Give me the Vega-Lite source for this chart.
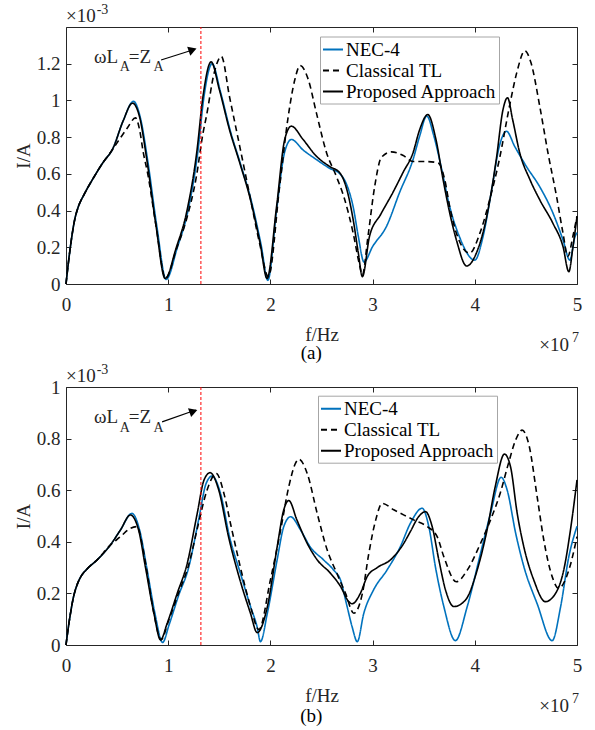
{
  "$schema": "https://vega.github.io/schema/vega-lite/v6.json",
  "autosize": {"type": "none"},
  "padding": {"left": 66, "top": 27, "right": 529, "bottom": 703},
  "bounds": "flush",
  "spacing": 103,
  "background": "#ffffff",
  "datasets": {
    "a": [
      {"s":"NEC-4","f":0,"I":0},{"s":"NEC-4","f":0.02,"I":0.1},{"s":"NEC-4","f":0.04,"I":0.19},{"s":"NEC-4","f":0.06,"I":0.27},{"s":"NEC-4","f":0.085,"I":0.35},{"s":"NEC-4","f":0.12,"I":0.42},{"s":"NEC-4","f":0.17,"I":0.48},{"s":"NEC-4","f":0.26,"I":0.57},{"s":"NEC-4","f":0.36,"I":0.66},{"s":"NEC-4","f":0.46,"I":0.74},{"s":"NEC-4","f":0.56,"I":0.89},{"s":"NEC-4","f":0.66,"I":0.995},{"s":"NEC-4","f":0.73,"I":0.9},{"s":"NEC-4","f":0.8,"I":0.67},{"s":"NEC-4","f":0.89,"I":0.31},{"s":"NEC-4","f":0.98,"I":0.025},{"s":"NEC-4","f":1.09,"I":0.2},{"s":"NEC-4","f":1.19,"I":0.39},{"s":"NEC-4","f":1.29,"I":0.72},{"s":"NEC-4","f":1.35,"I":1.02},{"s":"NEC-4","f":1.43,"I":1.2},{"s":"NEC-4","f":1.51,"I":1.05},{"s":"NEC-4","f":1.61,"I":0.83},{"s":"NEC-4","f":1.71,"I":0.65},{"s":"NEC-4","f":1.81,"I":0.46},{"s":"NEC-4","f":1.91,"I":0.21},{"s":"NEC-4","f":1.975,"I":0.02},{"s":"NEC-4","f":2.06,"I":0.4},{"s":"NEC-4","f":2.14,"I":0.72},{"s":"NEC-4","f":2.205,"I":0.787},{"s":"NEC-4","f":2.32,"I":0.73},{"s":"NEC-4","f":2.45,"I":0.678},{"s":"NEC-4","f":2.58,"I":0.63},{"s":"NEC-4","f":2.68,"I":0.6},{"s":"NEC-4","f":2.74,"I":0.55},{"s":"NEC-4","f":2.81,"I":0.42},{"s":"NEC-4","f":2.86,"I":0.26},{"s":"NEC-4","f":2.916,"I":0.12},{"s":"NEC-4","f":3.0,"I":0.204},{"s":"NEC-4","f":3.135,"I":0.313},{"s":"NEC-4","f":3.265,"I":0.5},{"s":"NEC-4","f":3.395,"I":0.677},{"s":"NEC-4","f":3.46,"I":0.805},{"s":"NEC-4","f":3.53,"I":0.915},{"s":"NEC-4","f":3.6,"I":0.805},{"s":"NEC-4","f":3.67,"I":0.64},{"s":"NEC-4","f":3.755,"I":0.42},{"s":"NEC-4","f":3.85,"I":0.257},{"s":"NEC-4","f":4.0,"I":0.13},{"s":"NEC-4","f":4.08,"I":0.257},{"s":"NEC-4","f":4.16,"I":0.495},{"s":"NEC-4","f":4.24,"I":0.75},{"s":"NEC-4","f":4.31,"I":0.832},{"s":"NEC-4","f":4.39,"I":0.75},{"s":"NEC-4","f":4.505,"I":0.64},{"s":"NEC-4","f":4.635,"I":0.53},{"s":"NEC-4","f":4.765,"I":0.386},{"s":"NEC-4","f":4.863,"I":0.24},{"s":"NEC-4","f":4.93,"I":0.13},{"s":"NEC-4","f":4.98,"I":0.257},{"s":"NEC-4","f":5.0,"I":0.28},
      {"s":"Classical TL","f":0,"I":0},{"s":"Classical TL","f":0.02,"I":0.1},{"s":"Classical TL","f":0.04,"I":0.19},{"s":"Classical TL","f":0.06,"I":0.27},{"s":"Classical TL","f":0.085,"I":0.35},{"s":"Classical TL","f":0.12,"I":0.42},{"s":"Classical TL","f":0.17,"I":0.48},{"s":"Classical TL","f":0.26,"I":0.57},{"s":"Classical TL","f":0.36,"I":0.66},{"s":"Classical TL","f":0.44,"I":0.72},{"s":"Classical TL","f":0.525,"I":0.79},{"s":"Classical TL","f":0.6,"I":0.85},{"s":"Classical TL","f":0.68,"I":0.905},{"s":"Classical TL","f":0.72,"I":0.84},{"s":"Classical TL","f":0.755,"I":0.72},{"s":"Classical TL","f":0.8,"I":0.6},{"s":"Classical TL","f":0.88,"I":0.32},{"s":"Classical TL","f":0.975,"I":0.03},{"s":"Classical TL","f":1.08,"I":0.19},{"s":"Classical TL","f":1.178,"I":0.35},{"s":"Classical TL","f":1.276,"I":0.586},{"s":"Classical TL","f":1.34,"I":0.82},{"s":"Classical TL","f":1.374,"I":0.914},{"s":"Classical TL","f":1.45,"I":1.15},{"s":"Classical TL","f":1.52,"I":1.24},{"s":"Classical TL","f":1.6,"I":1.02},{"s":"Classical TL","f":1.7,"I":0.75},{"s":"Classical TL","f":1.8,"I":0.477},{"s":"Classical TL","f":1.895,"I":0.22},{"s":"Classical TL","f":1.98,"I":0.04},{"s":"Classical TL","f":2.09,"I":0.53},{"s":"Classical TL","f":2.17,"I":0.896},{"s":"Classical TL","f":2.24,"I":1.115},{"s":"Classical TL","f":2.29,"I":1.19},{"s":"Classical TL","f":2.37,"I":1.115},{"s":"Classical TL","f":2.45,"I":0.932},{"s":"Classical TL","f":2.55,"I":0.714},{"s":"Classical TL","f":2.645,"I":0.587},{"s":"Classical TL","f":2.727,"I":0.46},{"s":"Classical TL","f":2.81,"I":0.277},{"s":"Classical TL","f":2.87,"I":0.11},{"s":"Classical TL","f":2.9,"I":0.05},{"s":"Classical TL","f":2.955,"I":0.26},{"s":"Classical TL","f":3.02,"I":0.53},{"s":"Classical TL","f":3.086,"I":0.69},{"s":"Classical TL","f":3.184,"I":0.72},{"s":"Classical TL","f":3.3,"I":0.7},{"s":"Classical TL","f":3.395,"I":0.667},{"s":"Classical TL","f":3.526,"I":0.667},{"s":"Classical TL","f":3.64,"I":0.66},{"s":"Classical TL","f":3.706,"I":0.568},{"s":"Classical TL","f":3.755,"I":0.42},{"s":"Classical TL","f":3.82,"I":0.277},{"s":"Classical TL","f":3.95,"I":0.168},{"s":"Classical TL","f":4.05,"I":0.277},{"s":"Classical TL","f":4.146,"I":0.46},{"s":"Classical TL","f":4.24,"I":0.678},{"s":"Classical TL","f":4.34,"I":0.97},{"s":"Classical TL","f":4.41,"I":1.15},{"s":"Classical TL","f":4.49,"I":1.27},{"s":"Classical TL","f":4.55,"I":1.205},{"s":"Classical TL","f":4.635,"I":0.97},{"s":"Classical TL","f":4.716,"I":0.714},{"s":"Classical TL","f":4.8,"I":0.477},{"s":"Classical TL","f":4.863,"I":0.277},{"s":"Classical TL","f":4.91,"I":0.15},{"s":"Classical TL","f":4.96,"I":0.26},{"s":"Classical TL","f":5.0,"I":0.37},
      {"s":"Proposed Approach","f":0,"I":0},{"s":"Proposed Approach","f":0.02,"I":0.1},{"s":"Proposed Approach","f":0.04,"I":0.19},{"s":"Proposed Approach","f":0.06,"I":0.27},{"s":"Proposed Approach","f":0.085,"I":0.35},{"s":"Proposed Approach","f":0.12,"I":0.42},{"s":"Proposed Approach","f":0.17,"I":0.48},{"s":"Proposed Approach","f":0.26,"I":0.57},{"s":"Proposed Approach","f":0.36,"I":0.66},{"s":"Proposed Approach","f":0.46,"I":0.74},{"s":"Proposed Approach","f":0.56,"I":0.89},{"s":"Proposed Approach","f":0.65,"I":0.985},{"s":"Proposed Approach","f":0.72,"I":0.91},{"s":"Proposed Approach","f":0.79,"I":0.68},{"s":"Proposed Approach","f":0.88,"I":0.32},{"s":"Proposed Approach","f":0.97,"I":0.03},{"s":"Proposed Approach","f":1.08,"I":0.2},{"s":"Proposed Approach","f":1.18,"I":0.39},{"s":"Proposed Approach","f":1.28,"I":0.72},{"s":"Proposed Approach","f":1.34,"I":1.02},{"s":"Proposed Approach","f":1.42,"I":1.21},{"s":"Proposed Approach","f":1.5,"I":1.06},{"s":"Proposed Approach","f":1.6,"I":0.84},{"s":"Proposed Approach","f":1.7,"I":0.66},{"s":"Proposed Approach","f":1.8,"I":0.47},{"s":"Proposed Approach","f":1.9,"I":0.22},{"s":"Proposed Approach","f":1.967,"I":0.03},{"s":"Proposed Approach","f":2.06,"I":0.42},{"s":"Proposed Approach","f":2.14,"I":0.787},{"s":"Proposed Approach","f":2.205,"I":0.86},{"s":"Proposed Approach","f":2.32,"I":0.787},{"s":"Proposed Approach","f":2.45,"I":0.696},{"s":"Proposed Approach","f":2.58,"I":0.64},{"s":"Proposed Approach","f":2.68,"I":0.605},{"s":"Proposed Approach","f":2.74,"I":0.53},{"s":"Proposed Approach","f":2.81,"I":0.35},{"s":"Proposed Approach","f":2.86,"I":0.17},{"s":"Proposed Approach","f":2.9,"I":0.04},{"s":"Proposed Approach","f":2.97,"I":0.26},{"s":"Proposed Approach","f":3.08,"I":0.38},{"s":"Proposed Approach","f":3.2,"I":0.5},{"s":"Proposed Approach","f":3.3,"I":0.61},{"s":"Proposed Approach","f":3.395,"I":0.714},{"s":"Proposed Approach","f":3.46,"I":0.84},{"s":"Proposed Approach","f":3.54,"I":0.923},{"s":"Proposed Approach","f":3.62,"I":0.787},{"s":"Proposed Approach","f":3.69,"I":0.568},{"s":"Proposed Approach","f":3.755,"I":0.386},{"s":"Proposed Approach","f":3.82,"I":0.24},{"s":"Proposed Approach","f":3.92,"I":0.098},{"s":"Proposed Approach","f":4.015,"I":0.168},{"s":"Proposed Approach","f":4.11,"I":0.35},{"s":"Proposed Approach","f":4.21,"I":0.678},{"s":"Proposed Approach","f":4.276,"I":0.95},{"s":"Proposed Approach","f":4.32,"I":1.015},{"s":"Proposed Approach","f":4.37,"I":0.896},{"s":"Proposed Approach","f":4.44,"I":0.714},{"s":"Proposed Approach","f":4.54,"I":0.568},{"s":"Proposed Approach","f":4.635,"I":0.459},{"s":"Proposed Approach","f":4.765,"I":0.33},{"s":"Proposed Approach","f":4.863,"I":0.204},{"s":"Proposed Approach","f":4.92,"I":0.067},{"s":"Proposed Approach","f":4.96,"I":0.2},{"s":"Proposed Approach","f":5.0,"I":0.368}
    ],
    "b": [
      {"s":"NEC-4","f":0,"I":0},{"s":"NEC-4","f":0.02,"I":0.06},{"s":"NEC-4","f":0.044,"I":0.123},{"s":"NEC-4","f":0.07,"I":0.18},{"s":"NEC-4","f":0.11,"I":0.235},{"s":"NEC-4","f":0.15,"I":0.268},{"s":"NEC-4","f":0.207,"I":0.295},{"s":"NEC-4","f":0.305,"I":0.33},{"s":"NEC-4","f":0.435,"I":0.388},{"s":"NEC-4","f":0.533,"I":0.446},{"s":"NEC-4","f":0.645,"I":0.51},{"s":"NEC-4","f":0.72,"I":0.446},{"s":"NEC-4","f":0.79,"I":0.3},{"s":"NEC-4","f":0.87,"I":0.123},{"s":"NEC-4","f":0.945,"I":0.01},{"s":"NEC-4","f":1.01,"I":0.08},{"s":"NEC-4","f":1.1,"I":0.19},{"s":"NEC-4","f":1.2,"I":0.3},{"s":"NEC-4","f":1.3,"I":0.49},{"s":"NEC-4","f":1.37,"I":0.625},{"s":"NEC-4","f":1.43,"I":0.655},{"s":"NEC-4","f":1.51,"I":0.59},{"s":"NEC-4","f":1.6,"I":0.42},{"s":"NEC-4","f":1.707,"I":0.277},{"s":"NEC-4","f":1.805,"I":0.15},{"s":"NEC-4","f":1.87,"I":0.07},{"s":"NEC-4","f":1.903,"I":0.013},{"s":"NEC-4","f":1.97,"I":0.123},{"s":"NEC-4","f":2.066,"I":0.33},{"s":"NEC-4","f":2.13,"I":0.458},{"s":"NEC-4","f":2.197,"I":0.497},{"s":"NEC-4","f":2.295,"I":0.446},{"s":"NEC-4","f":2.39,"I":0.38},{"s":"NEC-4","f":2.52,"I":0.33},{"s":"NEC-4","f":2.62,"I":0.29},{"s":"NEC-4","f":2.686,"I":0.252},{"s":"NEC-4","f":2.75,"I":0.15},{"s":"NEC-4","f":2.8,"I":0.07},{"s":"NEC-4","f":2.85,"I":0.013},{"s":"NEC-4","f":2.914,"I":0.123},{"s":"NEC-4","f":3.01,"I":0.214},{"s":"NEC-4","f":3.14,"I":0.29},{"s":"NEC-4","f":3.27,"I":0.38},{"s":"NEC-4","f":3.37,"I":0.472},{"s":"NEC-4","f":3.485,"I":0.53},{"s":"NEC-4","f":3.55,"I":0.459},{"s":"NEC-4","f":3.616,"I":0.3},{"s":"NEC-4","f":3.697,"I":0.149},{"s":"NEC-4","f":3.81,"I":0.017},{"s":"NEC-4","f":3.926,"I":0.149},{"s":"NEC-4","f":4.056,"I":0.355},{"s":"NEC-4","f":4.154,"I":0.51},{"s":"NEC-4","f":4.258,"I":0.65},{"s":"NEC-4","f":4.317,"I":0.6},{"s":"NEC-4","f":4.4,"I":0.433},{"s":"NEC-4","f":4.48,"I":0.304},{"s":"NEC-4","f":4.61,"I":0.16},{"s":"NEC-4","f":4.757,"I":0.017},{"s":"NEC-4","f":4.84,"I":0.149},{"s":"NEC-4","f":4.92,"I":0.342},{"s":"NEC-4","f":5.0,"I":0.46},
      {"s":"Classical TL","f":0,"I":0},{"s":"Classical TL","f":0.02,"I":0.06},{"s":"Classical TL","f":0.044,"I":0.123},{"s":"Classical TL","f":0.07,"I":0.18},{"s":"Classical TL","f":0.11,"I":0.235},{"s":"Classical TL","f":0.15,"I":0.268},{"s":"Classical TL","f":0.207,"I":0.295},{"s":"Classical TL","f":0.305,"I":0.33},{"s":"Classical TL","f":0.435,"I":0.388},{"s":"Classical TL","f":0.533,"I":0.42},{"s":"Classical TL","f":0.62,"I":0.45},{"s":"Classical TL","f":0.697,"I":0.459},{"s":"Classical TL","f":0.74,"I":0.4},{"s":"Classical TL","f":0.79,"I":0.29},{"s":"Classical TL","f":0.86,"I":0.123},{"s":"Classical TL","f":0.93,"I":0.02},{"s":"Classical TL","f":1.0,"I":0.09},{"s":"Classical TL","f":1.1,"I":0.2},{"s":"Classical TL","f":1.2,"I":0.31},{"s":"Classical TL","f":1.284,"I":0.45},{"s":"Classical TL","f":1.38,"I":0.6},{"s":"Classical TL","f":1.47,"I":0.665},{"s":"Classical TL","f":1.55,"I":0.58},{"s":"Classical TL","f":1.61,"I":0.47},{"s":"Classical TL","f":1.675,"I":0.355},{"s":"Classical TL","f":1.707,"I":0.3},{"s":"Classical TL","f":1.805,"I":0.15},{"s":"Classical TL","f":1.887,"I":0.06},{"s":"Classical TL","f":2.0,"I":0.252},{"s":"Classical TL","f":2.1,"I":0.446},{"s":"Classical TL","f":2.18,"I":0.614},{"s":"Classical TL","f":2.245,"I":0.704},{"s":"Classical TL","f":2.28,"I":0.72},{"s":"Classical TL","f":2.36,"I":0.665},{"s":"Classical TL","f":2.458,"I":0.51},{"s":"Classical TL","f":2.556,"I":0.368},{"s":"Classical TL","f":2.65,"I":0.278},{"s":"Classical TL","f":2.735,"I":0.2},{"s":"Classical TL","f":2.816,"I":0.123},{"s":"Classical TL","f":2.9,"I":0.2},{"s":"Classical TL","f":2.963,"I":0.355},{"s":"Classical TL","f":3.03,"I":0.484},{"s":"Classical TL","f":3.094,"I":0.549},{"s":"Classical TL","f":3.207,"I":0.524},{"s":"Classical TL","f":3.34,"I":0.497},{"s":"Classical TL","f":3.4,"I":0.485},{"s":"Classical TL","f":3.534,"I":0.459},{"s":"Classical TL","f":3.632,"I":0.42},{"s":"Classical TL","f":3.697,"I":0.342},{"s":"Classical TL","f":3.82,"I":0.245},{"s":"Classical TL","f":3.926,"I":0.29},{"s":"Classical TL","f":4.056,"I":0.394},{"s":"Classical TL","f":4.154,"I":0.485},{"s":"Classical TL","f":4.25,"I":0.59},{"s":"Classical TL","f":4.33,"I":0.705},{"s":"Classical TL","f":4.4,"I":0.795},{"s":"Classical TL","f":4.463,"I":0.833},{"s":"Classical TL","f":4.53,"I":0.775},{"s":"Classical TL","f":4.61,"I":0.575},{"s":"Classical TL","f":4.675,"I":0.407},{"s":"Classical TL","f":4.757,"I":0.265},{"s":"Classical TL","f":4.82,"I":0.22},{"s":"Classical TL","f":4.92,"I":0.29},{"s":"Classical TL","f":5.0,"I":0.42},
      {"s":"Proposed Approach","f":0,"I":0},{"s":"Proposed Approach","f":0.02,"I":0.06},{"s":"Proposed Approach","f":0.044,"I":0.123},{"s":"Proposed Approach","f":0.07,"I":0.18},{"s":"Proposed Approach","f":0.11,"I":0.235},{"s":"Proposed Approach","f":0.15,"I":0.268},{"s":"Proposed Approach","f":0.207,"I":0.295},{"s":"Proposed Approach","f":0.305,"I":0.33},{"s":"Proposed Approach","f":0.435,"I":0.388},{"s":"Proposed Approach","f":0.533,"I":0.446},{"s":"Proposed Approach","f":0.63,"I":0.504},{"s":"Proposed Approach","f":0.71,"I":0.446},{"s":"Proposed Approach","f":0.778,"I":0.3},{"s":"Proposed Approach","f":0.86,"I":0.123},{"s":"Proposed Approach","f":0.925,"I":0.02},{"s":"Proposed Approach","f":0.99,"I":0.084},{"s":"Proposed Approach","f":1.088,"I":0.2},{"s":"Proposed Approach","f":1.186,"I":0.316},{"s":"Proposed Approach","f":1.284,"I":0.51},{"s":"Proposed Approach","f":1.35,"I":0.639},{"s":"Proposed Approach","f":1.41,"I":0.668},{"s":"Proposed Approach","f":1.495,"I":0.6},{"s":"Proposed Approach","f":1.59,"I":0.42},{"s":"Proposed Approach","f":1.7,"I":0.255},{"s":"Proposed Approach","f":1.805,"I":0.123},{"s":"Proposed Approach","f":1.87,"I":0.048},{"s":"Proposed Approach","f":1.97,"I":0.148},{"s":"Proposed Approach","f":2.066,"I":0.38},{"s":"Proposed Approach","f":2.13,"I":0.523},{"s":"Proposed Approach","f":2.18,"I":0.56},{"s":"Proposed Approach","f":2.26,"I":0.484},{"s":"Proposed Approach","f":2.36,"I":0.394},{"s":"Proposed Approach","f":2.458,"I":0.33},{"s":"Proposed Approach","f":2.588,"I":0.278},{"s":"Proposed Approach","f":2.686,"I":0.227},{"s":"Proposed Approach","f":2.767,"I":0.168},{"s":"Proposed Approach","f":2.8,"I":0.16},{"s":"Proposed Approach","f":2.88,"I":0.2},{"s":"Proposed Approach","f":2.947,"I":0.265},{"s":"Proposed Approach","f":3.045,"I":0.3},{"s":"Proposed Approach","f":3.175,"I":0.33},{"s":"Proposed Approach","f":3.305,"I":0.394},{"s":"Proposed Approach","f":3.37,"I":0.44},{"s":"Proposed Approach","f":3.45,"I":0.497},{"s":"Proposed Approach","f":3.517,"I":0.517},{"s":"Proposed Approach","f":3.583,"I":0.459},{"s":"Proposed Approach","f":3.648,"I":0.33},{"s":"Proposed Approach","f":3.713,"I":0.214},{"s":"Proposed Approach","f":3.795,"I":0.149},{"s":"Proposed Approach","f":3.91,"I":0.175},{"s":"Proposed Approach","f":4.023,"I":0.29},{"s":"Proposed Approach","f":4.12,"I":0.446},{"s":"Proposed Approach","f":4.2,"I":0.614},{"s":"Proposed Approach","f":4.29,"I":0.74},{"s":"Proposed Approach","f":4.35,"I":0.69},{"s":"Proposed Approach","f":4.415,"I":0.51},{"s":"Proposed Approach","f":4.48,"I":0.38},{"s":"Proposed Approach","f":4.577,"I":0.252},{"s":"Proposed Approach","f":4.69,"I":0.168},{"s":"Proposed Approach","f":4.79,"I":0.2},{"s":"Proposed Approach","f":4.87,"I":0.29},{"s":"Proposed Approach","f":4.936,"I":0.446},{"s":"Proposed Approach","f":5.0,"I":0.64}
    ]
  },
  "vconcat": [
    {
      "width": 511, "height": 257,
      "layer": [
        {
          "data": {"name": "a"},
          "mark": {"type": "line", "interpolate": "monotone", "strokeWidth": 1.6},
          "encoding": {
            "x": {"field": "f", "type": "quantitative", "scale": {"domain": [0, 5], "nice": false},
                  "axis": {"orient": "bottom", "values": [0,1,2,3,4,5], "title": "f/Hz", "format": "~g", "labelPadding": 16, "titlePadding": 11}},
            "y": {"field": "I", "type": "quantitative", "scale": {"domain": [0, 1.4], "nice": false},
                  "axis": {"orient": "left", "values": [0,0.2,0.4,0.6,0.8,1,1.2], "title": "I/A", "format": "~g", "labelPadding": 11, "titlePadding": 3}},
            "color": {"field": "s", "type": "nominal",
                      "scale": {"domain": ["NEC-4","Classical TL","Proposed Approach"], "range": ["#0072BD","#000000","#000000"]},
                      "legend": {"title": null, "orient": "none", "legendX": 254, "legendY": 9.5, "symbolType": "stroke", "symbolSize": 400, "symbolStrokeWidth": 2, "labelFont": "Liberation Serif", "labelFontSize": 19, "labelColor": "#000000", "padding": 2, "rowPadding": 0, "labelOffset": 2, "strokeColor": "#a6a6a6", "fillColor": "#ffffff"}},
            "strokeDash": {"field": "s", "type": "nominal",
                      "scale": {"domain": ["NEC-4","Classical TL","Proposed Approach"], "range": [[1,0],[6,4],[1,0]]},
                      "legend": {"title": null, "orient": "none", "legendX": 254, "legendY": 9.5, "symbolType": "stroke", "symbolSize": 400, "symbolStrokeWidth": 2, "labelFont": "Liberation Serif", "labelFontSize": 19, "labelColor": "#000000", "padding": 2, "rowPadding": 0, "labelOffset": 2, "strokeColor": "#a6a6a6", "fillColor": "#ffffff"}}
          }
        },
        {
          "data": {"values": [{"f": 1.32, "y0": 0, "y1": 1.4}]},
          "mark": {"type": "rule", "color": "#ff0000", "strokeWidth": 1, "strokeDash": [3, 2]},
          "encoding": {
            "x": {"field": "f", "type": "quantitative", "scale": {"domain": [0, 5], "nice": false},
                  "axis": {"orient": "top", "values": [0,1,2,3,4,5], "labels": false, "title": null}},
            "y": {"field": "y0", "type": "quantitative", "scale": {"domain": [0, 1.4], "nice": false},
                  "axis": {"orient": "right", "values": [0,0.2,0.4,0.6,0.8,1,1.2], "labels": false, "title": null}},
            "y2": {"field": "y1"}
          }
        },
        {
          "data": {"values": [{"f": 0.93, "I": 1.22, "f2": 1.262, "I2": 1.279}]},
          "mark": {"type": "rule", "color": "#000000", "strokeWidth": 1.2},
          "encoding": {
            "x": {"field": "f", "type": "quantitative", "scale": {"domain": [0, 5], "nice": false}, "axis": null},
            "y": {"field": "I", "type": "quantitative", "scale": {"domain": [0, 1.4], "nice": false}, "axis": null},
            "x2": {"field": "f2"}, "y2": {"field": "I2"}
          }
        },
        {
          "data": {"values": [{"f": 1.239, "I": 1.275}]},
          "mark": {"type": "point", "shape": "triangle-right", "filled": true, "color": "#000000", "size": 90, "angle": 340.7, "opacity": 1},
          "encoding": {
            "x": {"field": "f", "type": "quantitative", "scale": {"domain": [0, 5], "nice": false}, "axis": null},
            "y": {"field": "I", "type": "quantitative", "scale": {"domain": [0, 1.4], "nice": false}, "axis": null}
          }
        },
        {
          "data": {"values": [{"t": "ωL", "f": 0.275, "I": 1.206}, {"t": "=Z", "f": 0.615, "I": 1.206}]},
          "mark": {"type": "text", "align": "left", "baseline": "alphabetic", "font": "Liberation Serif", "fontSize": 19, "color": "#262626"},
          "encoding": {
            "x": {"field": "f", "type": "quantitative", "scale": {"domain": [0, 5], "nice": false}, "axis": null},
            "y": {"field": "I", "type": "quantitative", "scale": {"domain": [0, 1.4], "nice": false}, "axis": null},
            "text": {"field": "t"}
          }
        },
        {
          "data": {"values": [{"t": "×10", "f": 0, "I": 1.428}, {"t": "×10", "f": 4.63, "I": -0.366}]},
          "mark": {"type": "text", "align": "left", "baseline": "alphabetic", "font": "Liberation Serif", "fontSize": 19, "color": "#262626"},
          "encoding": {
            "x": {"field": "f", "type": "quantitative", "scale": {"domain": [0, 5], "nice": false}, "axis": null},
            "y": {"field": "I", "type": "quantitative", "scale": {"domain": [0, 1.4], "nice": false}, "axis": null},
            "text": {"field": "t"}
          }
        },
        {
          "data": {"values": [{"t": "A", "f": 0.525, "I": 1.16}, {"t": "A", "f": 0.855, "I": 1.16}, {"t": "-3", "f": 0.3, "I": 1.473}, {"t": "7", "f": 4.95, "I": -0.318}]},
          "mark": {"type": "text", "align": "left", "baseline": "alphabetic", "font": "Liberation Serif", "fontSize": 14, "color": "#262626"},
          "encoding": {
            "x": {"field": "f", "type": "quantitative", "scale": {"domain": [0, 5], "nice": false}, "axis": null},
            "y": {"field": "I", "type": "quantitative", "scale": {"domain": [0, 1.4], "nice": false}, "axis": null},
            "text": {"field": "t"}
          }
        },
        {
          "data": {"values": [{"t": "(a)", "f": 2.4, "I": -0.41}]},
          "mark": {"type": "text", "align": "center", "baseline": "alphabetic", "font": "Liberation Serif", "fontSize": 19, "color": "#000000"},
          "encoding": {
            "x": {"field": "f", "type": "quantitative", "scale": {"domain": [0, 5], "nice": false}, "axis": null},
            "y": {"field": "I", "type": "quantitative", "scale": {"domain": [0, 1.4], "nice": false}, "axis": null},
            "text": {"field": "t"}
          }
        }
      ],
      "resolve": {"axis": {"x": "independent", "y": "independent"}}
    },
    {
      "width": 511, "height": 258,
      "layer": [
        {
          "data": {"name": "b"},
          "mark": {"type": "line", "interpolate": "monotone", "strokeWidth": 1.6},
          "encoding": {
            "x": {"field": "f", "type": "quantitative", "scale": {"domain": [0, 5], "nice": false},
                  "axis": {"orient": "bottom", "values": [0,1,2,3,4,5], "title": "f/Hz", "format": "~g", "labelPadding": 16, "titlePadding": 11}},
            "y": {"field": "I", "type": "quantitative", "scale": {"domain": [0, 1], "nice": false},
                  "axis": {"orient": "left", "values": [0,0.2,0.4,0.6,0.8,1], "title": "I/A", "format": "~g", "labelPadding": 11, "titlePadding": 3}},
            "color": {"field": "s", "type": "nominal",
                      "scale": {"domain": ["NEC-4","Classical TL","Proposed Approach"], "range": ["#0072BD","#000000","#000000"]},
                      "legend": {"title": null, "orient": "none", "legendX": 252, "legendY": 8.7, "symbolType": "stroke", "symbolSize": 400, "symbolStrokeWidth": 2, "labelFont": "Liberation Serif", "labelFontSize": 19, "labelColor": "#000000", "padding": 2, "rowPadding": 0, "labelOffset": 2, "strokeColor": "#a6a6a6", "fillColor": "#ffffff"}},
            "strokeDash": {"field": "s", "type": "nominal",
                      "scale": {"domain": ["NEC-4","Classical TL","Proposed Approach"], "range": [[1,0],[6,4],[1,0]]},
                      "legend": {"title": null, "orient": "none", "legendX": 252, "legendY": 8.7, "symbolType": "stroke", "symbolSize": 400, "symbolStrokeWidth": 2, "labelFont": "Liberation Serif", "labelFontSize": 19, "labelColor": "#000000", "padding": 2, "rowPadding": 0, "labelOffset": 2, "strokeColor": "#a6a6a6", "fillColor": "#ffffff"}}
          }
        },
        {
          "data": {"values": [{"f": 1.32, "y0": 0, "y1": 1}]},
          "mark": {"type": "rule", "color": "#ff0000", "strokeWidth": 1, "strokeDash": [3, 2]},
          "encoding": {
            "x": {"field": "f", "type": "quantitative", "scale": {"domain": [0, 5], "nice": false},
                  "axis": {"orient": "top", "values": [0,1,2,3,4,5], "labels": false, "title": null}},
            "y": {"field": "y0", "type": "quantitative", "scale": {"domain": [0, 1], "nice": false},
                  "axis": {"orient": "right", "values": [0,0.2,0.4,0.6,0.8,1], "labels": false, "title": null}},
            "y2": {"field": "y1"}
          }
        },
        {
          "data": {"values": [{"f": 0.94, "I": 0.865, "f2": 1.27, "I2": 0.911}]},
          "mark": {"type": "rule", "color": "#000000", "strokeWidth": 1.2},
          "encoding": {
            "x": {"field": "f", "type": "quantitative", "scale": {"domain": [0, 5], "nice": false}, "axis": null},
            "y": {"field": "I", "type": "quantitative", "scale": {"domain": [0, 1], "nice": false}, "axis": null},
            "x2": {"field": "f2"}, "y2": {"field": "I2"}
          }
        },
        {
          "data": {"values": [{"f": 1.247, "I": 0.906}]},
          "mark": {"type": "point", "shape": "triangle-right", "filled": true, "color": "#000000", "size": 90, "angle": 340.7, "opacity": 1},
          "encoding": {
            "x": {"field": "f", "type": "quantitative", "scale": {"domain": [0, 5], "nice": false}, "axis": null},
            "y": {"field": "I", "type": "quantitative", "scale": {"domain": [0, 1], "nice": false}, "axis": null}
          }
        },
        {
          "data": {"values": [{"t": "ωL", "f": 0.275, "I": 0.859}, {"t": "=Z", "f": 0.615, "I": 0.859}]},
          "mark": {"type": "text", "align": "left", "baseline": "alphabetic", "font": "Liberation Serif", "fontSize": 19, "color": "#262626"},
          "encoding": {
            "x": {"field": "f", "type": "quantitative", "scale": {"domain": [0, 5], "nice": false}, "axis": null},
            "y": {"field": "I", "type": "quantitative", "scale": {"domain": [0, 1], "nice": false}, "axis": null},
            "text": {"field": "t"}
          }
        },
        {
          "data": {"values": [{"t": "×10", "f": 0, "I": 1.019}, {"t": "×10", "f": 4.63, "I": -0.26}]},
          "mark": {"type": "text", "align": "left", "baseline": "alphabetic", "font": "Liberation Serif", "fontSize": 19, "color": "#262626"},
          "encoding": {
            "x": {"field": "f", "type": "quantitative", "scale": {"domain": [0, 5], "nice": false}, "axis": null},
            "y": {"field": "I", "type": "quantitative", "scale": {"domain": [0, 1], "nice": false}, "axis": null},
            "text": {"field": "t"}
          }
        },
        {
          "data": {"values": [{"t": "A", "f": 0.525, "I": 0.827}, {"t": "A", "f": 0.855, "I": 0.827}, {"t": "-3", "f": 0.3, "I": 1.051}, {"t": "7", "f": 4.95, "I": -0.226}]},
          "mark": {"type": "text", "align": "left", "baseline": "alphabetic", "font": "Liberation Serif", "fontSize": 14, "color": "#262626"},
          "encoding": {
            "x": {"field": "f", "type": "quantitative", "scale": {"domain": [0, 5], "nice": false}, "axis": null},
            "y": {"field": "I", "type": "quantitative", "scale": {"domain": [0, 1], "nice": false}, "axis": null},
            "text": {"field": "t"}
          }
        },
        {
          "data": {"values": [{"t": "(b)", "f": 2.4, "I": -0.3}]},
          "mark": {"type": "text", "align": "center", "baseline": "alphabetic", "font": "Liberation Serif", "fontSize": 19, "color": "#000000"},
          "encoding": {
            "x": {"field": "f", "type": "quantitative", "scale": {"domain": [0, 5], "nice": false}, "axis": null},
            "y": {"field": "I", "type": "quantitative", "scale": {"domain": [0, 1], "nice": false}, "axis": null},
            "text": {"field": "t"}
          }
        }
      ],
      "resolve": {"axis": {"x": "independent", "y": "independent"}}
    }
  ],
  "resolve": {
    "scale": {"x": "independent", "y": "independent", "color": "independent", "strokeDash": "independent"},
    "legend": {"color": "independent", "strokeDash": "independent"}
  },
  "config": {
    "font": "Liberation Serif",
    "view": {"stroke": "#262626", "strokeWidth": 1},
    "axis": {
      "domain": false, "grid": false, "tickSize": -5, "tickColor": "#262626", "tickWidth": 1,
      "labelFont": "Liberation Serif", "labelFontSize": 19, "labelColor": "#262626", "labelFlush": false, "labelOverlap": false,
      "titleFont": "Liberation Serif", "titleFontSize": 19, "titleFontWeight": "normal", "titleColor": "#262626"
    }
  }
}
